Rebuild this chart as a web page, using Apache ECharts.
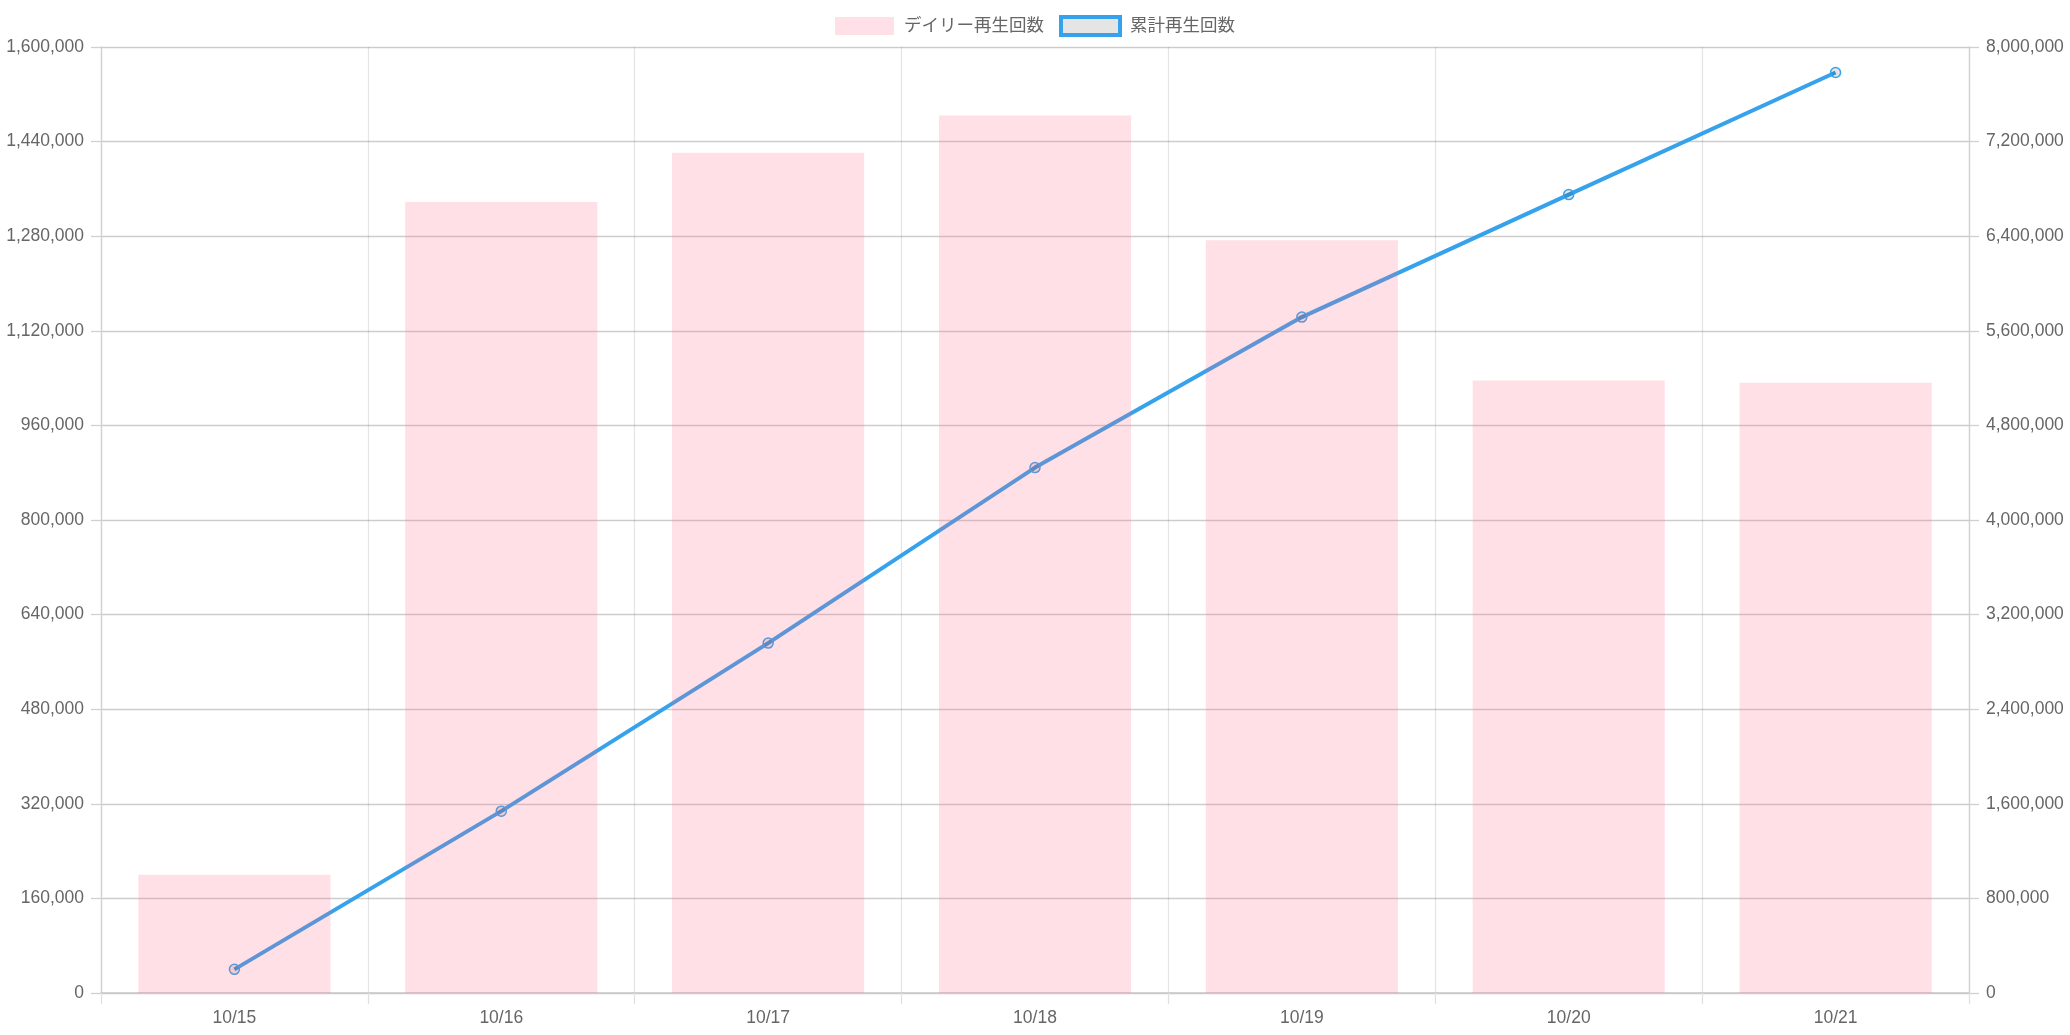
<!DOCTYPE html>
<html>
<head>
<meta charset="utf-8">
<script src="https://cdn.jsdelivr.net/npm/echarts@6/dist/echarts.min.js"></script>
<style>
html,body{margin:0;padding:0;background:#fff;}
#chart{width:2070px;height:1035px;}
</style>
</head>
<body>
<div id="chart"></div>
<script>
const categories = ['10/15','10/16','10/17','10/18','10/19','10/20','10/21'];
const dailyPlays = [200000, 1338000, 1421000, 1484000, 1273000, 1036000, 1032000];
const cumulativePlays = [200000, 1538000, 2959000, 4443000, 5716000, 6752000, 7784000];
const dailyName = 'デイリー再生回数';
const cumulativeName = '累計再生回数';

const FONT = '"Liberation Sans", Arial, "Noto Sans CJK JP", sans-serif';
const FS = 17.5;
const fmt = v => Number(v).toLocaleString('en-US');

const chart = echarts.init(document.getElementById('chart'));
chart.setOption({
  animation: false,
  textStyle: { fontFamily: FONT },
  legend: {
    top: 10,
    left: 'center',
    itemWidth: 59,
    itemHeight: 18,
    itemGap: 15,
    textStyle: { fontSize: FS, color: '#666', fontFamily: FONT, padding: [0, 0, 0, 5] },
    data: [
      { name: dailyName, icon: 'rect', itemStyle: { color: 'rgba(255,99,132,0.2)', borderWidth: 0 } },
      { name: cumulativeName, icon: 'rect', itemStyle: { color: 'rgba(0,0,0,0.1)', borderColor: '#36a2eb', borderWidth: 4 } }
    ]
  },
  grid: { left: 101, right: 101, top: 47, bottom: 42, containLabel: false },
  xAxis: {
    type: 'category',
    data: categories,
    boundaryGap: true,
    axisLine: { lineStyle: { color: '#c8c8c8', width: 1.5 } },
    axisTick: { show: true, length: 11, lineStyle: { color: '#e0e0e0', width: 1.3 } },
    axisLabel: { fontSize: FS, color: '#666', margin: 16, fontFamily: FONT },
    splitLine: { show: true, lineStyle: { color: 'rgba(0,0,0,0.1)', width: 1.3 } }
  },
  yAxis: [
    {
      type: 'value',
      min: 0, max: 1600000, interval: 160000,
      position: 'left',
      axisLine: { show: true, lineStyle: { color: '#d0d0d0', width: 1.3 } },
      axisTick: { show: true, length: 10, lineStyle: { color: '#d0d0d0', width: 1.3 } },
      axisLabel: { fontSize: FS, color: '#666', margin: 17, formatter: fmt, fontFamily: FONT },
      splitLine: { show: true, lineStyle: { color: 'rgba(0,0,0,0.2)', width: 1.3 } }
    },
    {
      type: 'value',
      min: 0, max: 8000000, interval: 800000,
      position: 'right',
      axisLine: { show: true, lineStyle: { color: '#d0d0d0', width: 1.3 } },
      axisTick: { show: true, length: 10, lineStyle: { color: '#d0d0d0', width: 1.3 } },
      axisLabel: { fontSize: FS, color: '#666', margin: 17, formatter: fmt, fontFamily: FONT },
      splitLine: { show: false }
    }
  ],
  series: [
    {
      name: dailyName,
      type: 'bar',
      yAxisIndex: 0,
      data: dailyPlays,
      barCategoryGap: '28%',
      z: 3,
      itemStyle: { color: 'rgba(255,99,132,0.2)' }
    },
    {
      name: cumulativeName,
      type: 'line',
      yAxisIndex: 1,
      data: cumulativePlays,
      z: 2,
      symbol: 'circle',
      symbolSize: 10,
      showSymbol: true,
      lineStyle: { color: '#36a2eb', width: 4 },
      itemStyle: { color: 'rgba(0,0,0,0.1)', borderColor: '#36a2eb', borderWidth: 1.5 }
    }
  ]
});
</script>
</body>
</html>
